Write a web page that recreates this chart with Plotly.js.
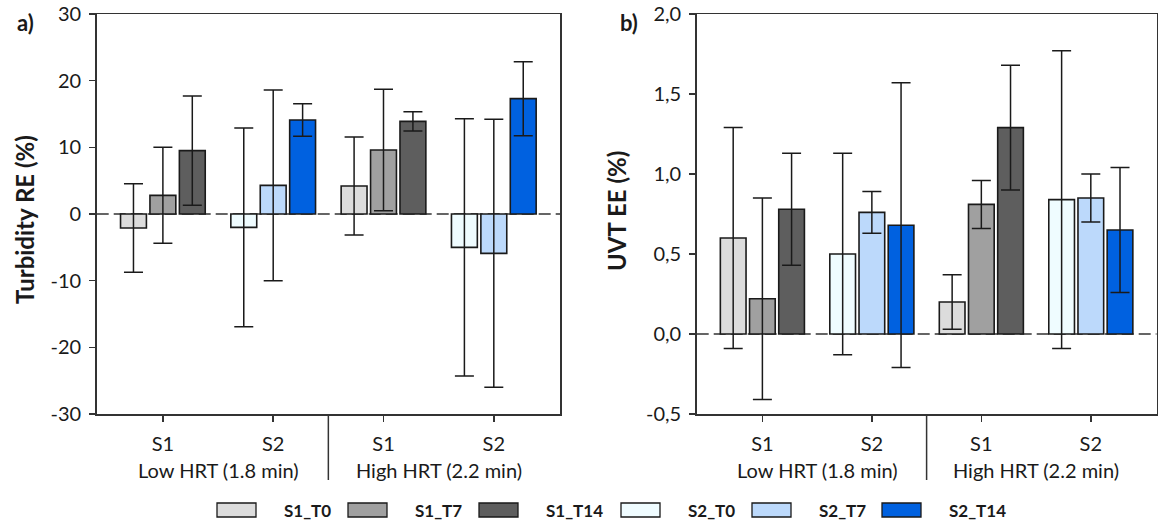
<!DOCTYPE html>
<html>
<head>
<meta charset="utf-8">
<script src="https://cdn.plot.ly/plotly-3.0.1.min.js"></script>
<style>
html,body{margin:0;padding:0;background:#fff;}
#chart{width:1158px;height:526px;}
</style>
</head>
<body>
<div id="chart"></div>
<script>
// ---------- DATA ----------
const categories = ['S1 Low', 'S2 Low', 'S1 High', 'S2 High'];
const tickLabels = ['S1', 'S2', 'S1', 'S2'];
const hrtGroups = ['Low HRT (1.8 min)', 'High HRT (2.2 min)'];
const seriesNames = ['S1_T0', 'S1_T7', 'S1_T14', 'S2_T0', 'S2_T7', 'S2_T14'];
const s1Categories = ['S1 Low', 'S1 High'];
const s2Categories = ['S2 Low', 'S2 High'];

const turbTickVals = [-30, -20, -10, 0, 10, 20, 30];
const turbTickText = ['-30', '-20', '-10', '0', '10', '20', '30'];
const uvtTickVals = [-0.5, 0, 0.5, 1, 1.5, 2];
const uvtTickText = ['-0,5', '0,0', '0,5', '1,0', '1,5', '2,0'];

// a) Turbidity RE (%)  [Low HRT, High HRT]
const turbS1T0 = [-2.1, 4.2];   const turbS1T0Err = [6.65, 7.35];
const turbS1T7 = [2.8, 9.6];    const turbS1T7Err = [7.2, 9.1];
const turbS1T14 = [9.5, 13.9];  const turbS1T14Err = [8.2, 1.45];
const turbS2T0 = [-2.0, -5.0];  const turbS2T0Err = [14.9, 19.3];
const turbS2T7 = [4.3, -5.9];   const turbS2T7Err = [14.3, 20.1];
const turbS2T14 = [14.1, 17.3]; const turbS2T14Err = [2.45, 5.55];

// b) UVT EE (%)  [Low HRT, High HRT]
const uvtS1T0 = [0.60, 0.20];  const uvtS1T0Err = [0.69, 0.17];
const uvtS1T7 = [0.22, 0.81];  const uvtS1T7Err = [0.63, 0.15];
const uvtS1T14 = [0.78, 1.29]; const uvtS1T14Err = [0.35, 0.39];
const uvtS2T0 = [0.50, 0.84];  const uvtS2T0Err = [0.63, 0.93];
const uvtS2T7 = [0.76, 0.85];  const uvtS2T7Err = [0.13, 0.15];
const uvtS2T14 = [0.68, 0.65]; const uvtS2T14Err = [0.89, 0.39];

// ---------- STYLE ----------
const colors = ['#dcdcdc', '#a0a0a0', '#5e5e5e', '#effcff', '#bcd9fb', '#0061e0'];
const slots = ['T0', 'T7', 'T14', 'T0', 'T7', 'T14'];
const FONT = 'Lato, "Open Sans", sans-serif';
const INK = '#1a1a1a';
const LINE = '#333333';

const turbVals = [turbS1T0, turbS1T7, turbS1T14, turbS2T0, turbS2T7, turbS2T14];
const turbErrs = [turbS1T0Err, turbS1T7Err, turbS1T14Err, turbS2T0Err, turbS2T7Err, turbS2T14Err];
const uvtVals = [uvtS1T0, uvtS1T7, uvtS1T14, uvtS2T0, uvtS2T7, uvtS2T14];
const uvtErrs = [uvtS1T0Err, uvtS1T7Err, uvtS1T14Err, uvtS2T0Err, uvtS2T7Err, uvtS2T14Err];

function barTrace(i, vals, errs, xa, ya) {
  return {
    type: 'bar',
    name: seriesNames[i],
    x: i < 3 ? s1Categories : s2Categories,
    y: vals,
    xaxis: xa, yaxis: ya,
    offsetgroup: slots[i],
    marker: {color: colors[i], line: {color: INK, width: 1.6}},
    error_y: {type: 'data', array: errs, visible: true, color: INK, thickness: 1.5, width: 9.5},
    showlegend: false,
    hoverinfo: 'x+y'
  };
}

const traces = [];
for (let i = 0; i < 6; i++) traces.push(barTrace(i, turbVals[i], turbErrs[i], 'x', 'y'));
for (let i = 0; i < 6; i++) traces.push(barTrace(i, uvtVals[i], uvtErrs[i], 'x2', 'y2'));

const W = 1158, H = 526;
const yDom = [(H - 414) / H, (H - 14) / H];

function xAxis(domain, anchor) {
  return {
    domain: domain, anchor: anchor, type: 'category', categoryorder: 'array', categoryarray: categories,
    range: [-0.6, 3.6], tickvals: categories, ticktext: tickLabels,
    showline: true, mirror: true, linecolor: LINE, linewidth: 1.5,
    ticks: 'outside', ticklen: 6, tickwidth: 1.5, tickcolor: LINE,
    tickfont: {family: FONT, size: 20, color: INK},
    showgrid: false, zeroline: false, fixedrange: true, ticklabelstandoff: 5
  };
}
function yAxis(range, vals, text, anchor) {
  return {
    domain: yDom, range: range, tickvals: vals, ticktext: text, anchor: anchor,
    showline: true, mirror: true, linecolor: LINE, linewidth: 1.5,
    ticks: 'outside', ticklen: 6, tickwidth: 1.5, tickcolor: LINE,
    tickfont: {family: FONT, size: 20, color: INK},
    showgrid: false, zeroline: false, fixedrange: true, ticklabelstandoff: 4
  };
}

const layout = {
  width: W, height: H,
  margin: {l: 0, r: 0, t: 0, b: 0},
  paper_bgcolor: '#ffffff', plot_bgcolor: '#ffffff',
  barmode: 'group', bargap: 0.2, bargroupgap: 0.12,
  showlegend: false,
  xaxis: xAxis([96.7 / W, 560 / W], 'y'),
  yaxis: yAxis([-30, 30], turbTickVals, turbTickText, 'x'),
  xaxis2: xAxis([696.7 / W, 1156.5 / W], 'y2'),
  yaxis2: yAxis([-0.5, 2.0], uvtTickVals, uvtTickText, 'x2'),
  shapes: [], annotations: []
};

// zero dashed reference lines + group dividers + group captions
[['x', 'y'], ['x2', 'y2']].forEach(([xa, ya]) => {
  layout.shapes.push({type: 'line', xref: xa + ' domain', yref: ya, x0: 0, x1: 1, y0: 0, y1: 0,
    line: {color: LINE, width: 1.3, dash: '12px,5px'}, layer: 'below'});
  layout.shapes.push({type: 'line', xref: xa, yref: 'paper', x0: 1.5, x1: 1.5,
    y0: yDom[0], y1: (H - 480) / H, line: {color: LINE, width: 1.5}});
  hrtGroups.forEach((g, k) => {
    layout.annotations.push({text: g, xref: xa, yref: 'paper', x: 0.5 + 2 * k, y: (H - 470) / H,
      xanchor: 'center', yanchor: 'middle', showarrow: false,
      font: {family: FONT, size: 20, color: INK}});
  });
});

// panel letters and y titles
const bold = (s) => '<b>' + s + '</b>';
layout.annotations.push({text: bold('a)'), xref: 'paper', yref: 'paper', x: 25 / W, y: (H - 22) / H,
  xanchor: 'center', yanchor: 'middle', showarrow: false, font: {family: FONT, size: 22, color: INK}});
layout.annotations.push({text: bold('b)'), xref: 'paper', yref: 'paper', x: 629 / W, y: (H - 23) / H,
  xanchor: 'center', yanchor: 'middle', showarrow: false, font: {family: FONT, size: 22, color: INK}});
layout.annotations.push({text: bold('Turbidity RE (%)'), xref: 'paper', yref: 'paper', x: 24 / W, y: (H - 220) / H,
  textangle: -90, xanchor: 'center', yanchor: 'middle', showarrow: false, font: {family: FONT, size: 24, color: INK}});
layout.annotations.push({text: bold('UVT EE (%)'), xref: 'paper', yref: 'paper', x: 616 / W, y: (H - 211) / H,
  textangle: -90, xanchor: 'center', yanchor: 'middle', showarrow: false, font: {family: FONT, size: 24, color: INK}});

// custom legend (wide swatches as in the original)
const legendBoxX = [217, 348, 479, 621, 752, 882];
seriesNames.forEach((n, i) => {
  const x0 = legendBoxX[i];
  layout.shapes.push({type: 'rect', xref: 'paper', yref: 'paper',
    x0: x0 / W, x1: (x0 + 39) / W, y0: (H - 517) / H, y1: (H - 503) / H,
    fillcolor: colors[i], line: {color: INK, width: 1.3}});
  layout.annotations.push({text: bold(n), xref: 'paper', yref: 'paper', x: (x0 + 65) / W, y: (H - 510) / H,
    xanchor: 'left', yanchor: 'middle', showarrow: false, font: {family: FONT, size: 17, color: INK}});
});

Plotly.newPlot('chart', traces, layout, {displayModeBar: false, staticPlot: true});
</script>
</body>
</html>
